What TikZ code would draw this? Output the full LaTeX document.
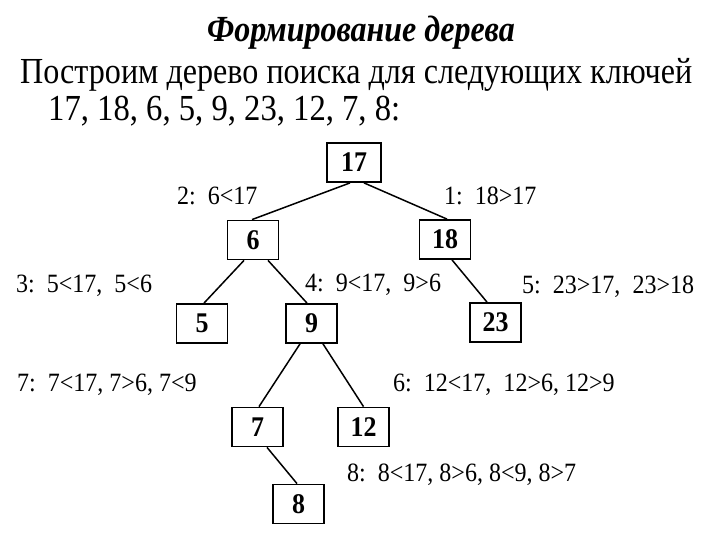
\documentclass[tikz,border=0pt]{standalone}
\usepackage{fontspec}
\setmainfont{Liberation Serif}
\newfontfamily\titlefamily{Liberation Serif}[FakeStretch=0.87, UprightFont=* Bold Italic]
\newfontfamily\linetwofamily[FakeStretch=0.875]{Liberation Serif}
\newfontfamily\linethreefamily[FakeStretch=0.89]{Liberation Serif}
\newfontfamily\labfamily[FakeStretch=0.91]{Liberation Serif}
\begin{document}
\frenchspacing
\begin{tikzpicture}[x=1pt,y=-1pt,
  box/.style={draw, line width=1.8pt, minimum width=51pt, minimum height=39pt, inner sep=0pt,
    font=\labfamily\bfseries\fontsize{28.5}{28.5}\selectfont},
  lab/.style={anchor=base west, inner sep=0pt, font=\labfamily\fontsize{26.4}{26.4}\selectfont},
  edge/.style={line width=1.5pt}]
\useasboundingbox (0,0) rectangle (720,540);
% header
\node[anchor=base, inner sep=0pt, font=\titlefamily\fontsize{36.8}{36.8}\selectfont] (title) at (361,42) {Формирование дерева};
\node[anchor=base west, inner sep=0pt, font=\linetwofamily\fontsize{36.7}{36.7}\selectfont] (line2) at (20,84) {Построим дерево поиска для следующих ключей};
\node[anchor=base west, inner sep=0pt, font=\linethreefamily\fontsize{36.7}{36.7}\selectfont] (line3) at (48,121) {17, 18, 6, 5, 9, 23, 12, 7, 8:};
% nodes
\node[box, minimum width=54pt] (n17) at (354,162.5) {17};
\node[box] (n6) at (253,240) {6};
\node[box] (n18) at (445,239.5) {18};
\node[box] (n5) at (202,323.5) {5};
\node[box] (n9) at (311.5,323.5) {9};
\node[box] (n23) at (495.5,322.5) {23};
\node[box] (n7) at (257.5,427) {7};
\node[box] (n12) at (363.5,427) {12};
\node[box] (n8) at (298.5,504) {8};
% edges
\draw[edge] ([xshift=-4pt]n17.south) -- ([xshift=-1pt]n6.north);
\draw[edge] ([xshift=10pt]n17.south) -- ([xshift=2pt]n18.north);
\draw[edge] ([xshift=-9pt]n6.south) -- ([xshift=2pt]n5.north);
\draw[edge] ([xshift=15pt]n6.south) -- ([xshift=-4.5pt]n9.north);
\draw[edge] ([xshift=7pt]n18.south) -- ([xshift=-8.5pt]n23.north);
\draw[edge] ([xshift=-11.5pt]n9.south) -- ([xshift=1.5pt]n7.north);
\draw[edge] ([xshift=11.5pt]n9.south) -- (n12.north);
\draw[edge] ([xshift=9.5pt]n7.south) -- ([xshift=-1.5pt]n8.north);
% labels
\node[lab] (l2) at (177,205) {2:\ \ 6<17};
\node[lab] (l1) at (444,205) {1:\ \ 18>17};
\node[lab] (l3) at (16,292) {3:\ \ 5<17,\ \ 5<6};
\node[lab] (l4) at (305,291) {4:\ \ 9<17,\ \ 9>6};
\node[lab] (l5) at (522,293) {5:\ \ 23>17,\ \ 23>18};
\node[lab] (l7) at (17,391) {7:\ \ 7<17, 7>6, 7<9};
\node[lab] (l6) at (393,391) {6:\ \ 12<17,\ \ 12>6, 12>9};
\node[lab] (l8) at (347,481) {8:\ \ 8<17, 8>6, 8<9, 8>7};
\end{tikzpicture}
\end{document}
